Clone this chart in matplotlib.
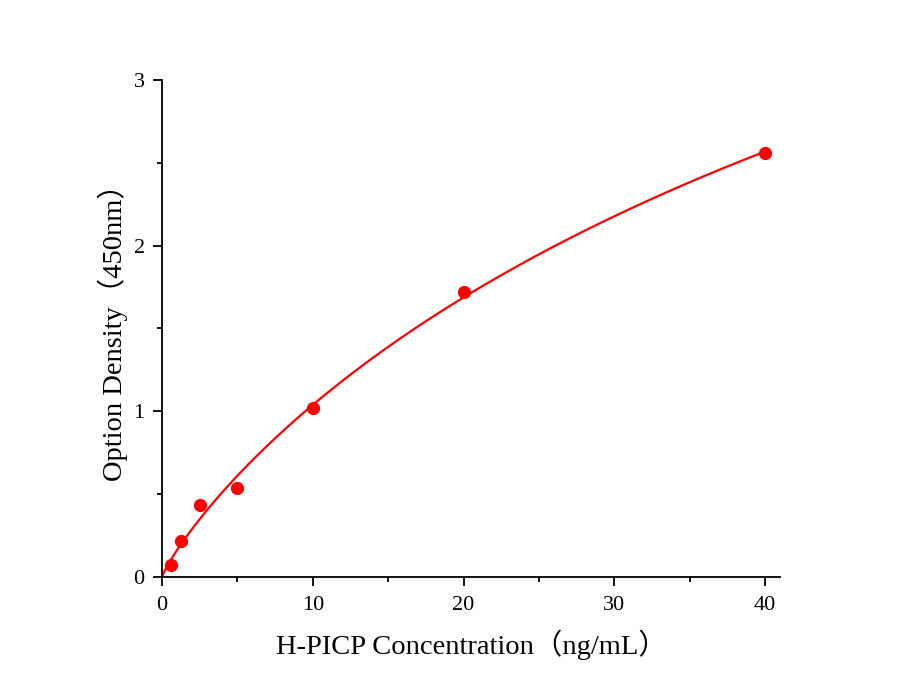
import numpy as np
import matplotlib
matplotlib.use('Agg')
import matplotlib.pyplot as plt
from matplotlib.ticker import MultipleLocator

# standard concentrations and measured OD
conc = np.array([0.625, 1.25, 2.5, 5, 10, 20, 40])
od = np.array([0.072, 0.217, 0.435, 0.537, 1.02, 1.72, 2.56])

# four parameter logistic with bottom fixed at 0, fitted by grid search
def fourpl(x, b, c, d):
    return d * (x / c) ** b / (1 + (x / c) ** b)

best = None
for b in np.linspace(0.6, 1.6, 201):
    for c in np.linspace(5, 300, 300):
        g = (conc / c) ** b / (1 + (conc / c) ** b)
        d = np.sum(g * od) / np.sum(g * g)
        err = np.sum((d * g - od) ** 2)
        if best is None or err < best[0]:
            best = (err, b, c, d)
_, fb, fc, fd = best

xs = np.linspace(0, 40, 400)
ys = fourpl(xs, fb, fc, fd)

fam = ['Liberation Serif', 'Noto Sans CJK SC']
plt.rcParams['font.family'] = fam

fig = plt.figure(figsize=(9.05, 6.93), dpi=100)
ax = fig.add_axes([0.179, 0.1674, 0.683, 0.7172])

ax.plot(xs, ys, color='#ff0000', linewidth=1.6, zorder=1)
ax.plot(conc, od, 'o', color='#ff0000', markersize=8.5, zorder=2)

ax.set_xlim(0, 41)
ax.set_ylim(0, 3)
ax.xaxis.set_major_locator(MultipleLocator(10))
ax.xaxis.set_minor_locator(MultipleLocator(5))
ax.yaxis.set_major_locator(MultipleLocator(1))
ax.yaxis.set_minor_locator(MultipleLocator(0.5))

for s in ['top', 'right']:
    ax.spines[s].set_visible(False)
for s in ['left', 'bottom']:
    ax.spines[s].set_linewidth(1.3)
ax.tick_params(which='major', direction='out', length=6.5, width=1.3, labelsize=16)
ax.tick_params(which='minor', direction='out', length=3.5, width=1.3)
ax.tick_params(axis='x', which='major', pad=7)
ax.tick_params(axis='y', which='major', pad=6)

ax.set_xlabel('H-PICP Concentration（ng/mL）', fontsize=20.5, labelpad=11)
ax.set_ylabel('Option Density（450nm）', fontsize=20.5)
ax.yaxis.set_label_coords(-0.055, 0.506)

fig.savefig('out.png', dpi=100)
